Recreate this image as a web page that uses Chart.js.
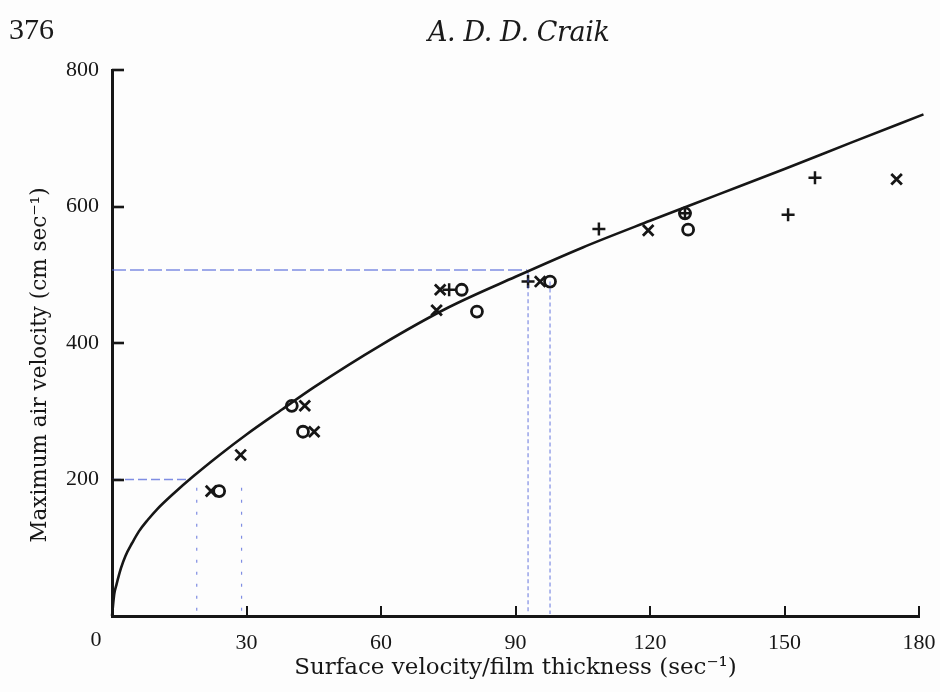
<!DOCTYPE html>
<html lang="en">
<head>
<meta charset="UTF-8">
<title>Maximum air velocity against surface velocity/film thickness</title>
<style>
  html, body { margin: 0; padding: 0; background: #fdfdfd; }
  #page { position: relative; width: 940px; height: 692px; overflow: hidden; }
  #chart { position: absolute; left: 0; top: 0; }
  .pageno { position: absolute; left: 9px; top: 12px; font: 30px "Liberation Serif", serif; color: #1a1a1a; }
  .running { position: absolute; left: 428px; top: 16px; font: italic 27px "DejaVu Serif", serif; color: #1a1a1a; letter-spacing: -0.4px; }
</style>
</head>
<body>
<div id="page">
  <canvas id="chart" width="940" height="692"></canvas>
  <div class="pageno">376</div>
  <div class="running">A. D. D. Craik</div>
</div>
<script src="https://cdn.jsdelivr.net/npm/chart.js"></script>
<script>
// theoretical curve
var curveX = [0, 0.5, 1, 2, 3, 4.5, 6, 8, 10, 14, 18, 24, 30, 38, 45, 60, 75, 90, 105, 120, 135, 150, 165, 181];
var curveY = [0, 32, 46, 70, 88, 107, 124, 141, 156, 181, 204, 236, 266, 303, 335, 397, 452, 497, 540, 579, 617, 655, 694, 735];

// measured points, one array pair per symbol
var crossX  = [22.1, 28.7, 43.0, 45.1, 73.2, 72.4, 95.5, 119.6, 175.0];
var crossY  = [183, 236, 308, 270, 478, 448, 490, 565, 640];
var circleX = [23.9, 40.1, 42.6, 78.0, 81.4, 97.7, 127.8, 128.5];
var circleY = [183, 308, 270, 478, 446, 490, 590, 566];
var plusX   = [75.2, 92.8, 108.6, 127.8, 150.8, 156.8];
var plusY   = [478, 490, 567, 590, 588, 642];

// pen marks on the page
var penLowX  = [0, 17.6];
var penLowY  = [200, 200];
var penHighX = [0, 92.6];
var penHighY = [507, 507];
var dropX    = [18.9, 28.9, 92.8, 97.7];
var dropTop  = [188, 188, 505, 490];

var xTicks = [0, 30, 60, 90, 120, 150, 180];
var yTicks = [0, 200, 400, 600, 800];

var ink = '#161616';
var pen = 'rgba(72, 92, 215, 0.7)';

function pairs(xs, ys) {
  return xs.map(function (x, i) { return { x: x, y: ys[i] }; });
}

var datasets = [
  {
    label: 'curve', data: pairs(curveX, curveY), showLine: true,
    borderColor: ink, borderWidth: 2.6, pointRadius: 0,
    cubicInterpolationMode: 'monotone', clip: false
  },
  {
    label: 'pen low', data: pairs(penLowX, penLowY), showLine: true,
    borderColor: pen, borderWidth: 1.6, borderDash: [9, 4], pointRadius: 0
  },
  {
    label: 'pen high', data: pairs(penHighX, penHighY), showLine: true,
    borderColor: pen, borderWidth: 1.4, borderDash: [14, 4], pointRadius: 0
  }
];

dropX.forEach(function (x, i) {
  datasets.push({
    label: 'drop ' + i, data: [{ x: x, y: dropTop[i] }, { x: x, y: 3 }], showLine: true,
    borderColor: pen, borderWidth: 1.2, borderDash: i < 2 ? [3, 9] : [4, 3], pointRadius: 0
  });
});

datasets.push(
  {
    label: 'X', data: pairs(crossX, crossY), pointStyle: 'crossRot',
    pointRadius: 7.5, borderColor: ink, borderWidth: 2.8
  },
  {
    label: 'O', data: pairs(circleX, circleY), pointStyle: 'circle',
    pointRadius: 5.5, borderColor: ink, borderWidth: 2.8, backgroundColor: 'rgba(0,0,0,0)'
  },
  {
    label: '+', data: pairs(plusX, plusY), pointStyle: 'cross',
    pointRadius: 6.5, borderColor: ink, borderWidth: 2.5
  }
);

// short tick marks pointing into the plot, the shared origin label and the y title
var innerTicks = {
  id: 'innerTicks',
  afterDraw: function (chart) {
    var ctx = chart.ctx, xs = chart.scales.x, ys = chart.scales.y;
    var left = chart.chartArea.left, bottom = chart.chartArea.bottom;
    ctx.save();
    ctx.strokeStyle = ink;
    ctx.lineWidth = 2;
    xTicks.slice(1).forEach(function (v) {
      var px = Math.round(xs.getPixelForValue(v));
      ctx.beginPath(); ctx.moveTo(px, bottom); ctx.lineTo(px, bottom - 10); ctx.stroke();
    });
    ctx.lineWidth = 2.6;
    yTicks.slice(1).forEach(function (v) {
      var py = Math.round(ys.getPixelForValue(v));
      ctx.beginPath(); ctx.moveTo(left, py); ctx.lineTo(left + 12, py); ctx.stroke();
    });
    ctx.fillStyle = ink;
    ctx.font = '22px "Liberation Serif", serif';
    ctx.textAlign = 'center';
    ctx.textBaseline = 'middle';
    ctx.fillText('0', left - 16, bottom + 24);

    ctx.translate(40, 365);
    ctx.rotate(-Math.PI / 2);
    ctx.font = '21.5px "DejaVu Serif", serif';
    ctx.fillText('Maximum air velocity (cm sec\u207B\u00B9)', 0, 0);
    ctx.restore();
  }
};

new Chart(document.getElementById('chart'), {
  type: 'scatter',
  data: { datasets: datasets },
  options: {
    responsive: false,
    animation: false,
    devicePixelRatio: 1,
    layout: { padding: { left: 0, right: 21, top: 70, bottom: 0 } },
    plugins: { legend: { display: false }, tooltip: { enabled: false } },
    scales: {
      x: {
        type: 'linear', min: 0, max: 180,
        afterBuildTicks: function (s) { s.ticks = xTicks.map(function (v) { return { value: v }; }); },
        afterFit: function (s) { s.height = 76; s.paddingLeft = 0; s.paddingRight = 0; },
        grid: { display: false, drawTicks: false },
        border: { display: true, color: ink, width: 3 },
        ticks: {
          color: ink, padding: 14, maxRotation: 0, autoSkip: false,
          font: { family: '"Liberation Serif", serif', size: 22 },
          callback: function (v) { return v === 0 ? '' : v; }
        },
        title: {
          display: true, text: 'Surface velocity/film thickness (sec\u207B\u00B9)', color: ink,
          font: { family: '"DejaVu Serif", serif', size: 23 }, padding: { top: 0, bottom: 10 }
        }
      },
      y: {
        type: 'linear', min: 0, max: 800,
        afterBuildTicks: function (s) { s.ticks = yTicks.map(function (v) { return { value: v }; }); },
        afterFit: function (s) { s.width = 112; s.paddingTop = 0; s.paddingBottom = 0; },
        grid: { display: false, drawTicks: false },
        border: { display: true, color: ink, width: 3 },
        ticks: {
          color: ink, padding: 13, autoSkip: false,
          font: { family: '"Liberation Serif", serif', size: 22 },
          callback: function (v) { return v === 0 ? '' : v; }
        },
        title: { display: false }
      }
    }
  },
  plugins: [innerTicks]
});
</script>
</body>
</html>
